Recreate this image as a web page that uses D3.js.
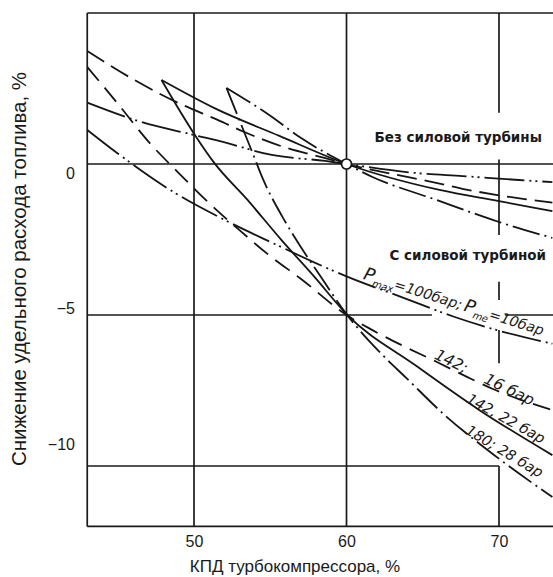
<!DOCTYPE html>
<html>
<head>
<meta charset="utf-8">
<script src="https://cdn.jsdelivr.net/npm/d3@7"></script>
<style>
  body { margin: 0; background: #fff; }
  svg { display: block; }
  .grid line { stroke: #1a1a1a; stroke-width: 1.7px; }
  .curve { stroke: #151515; stroke-width: 1.8px; fill: none; }
  .axis text { font-family: "Liberation Sans", Arial, sans-serif; font-size: 16px; fill: #1a1a1a; }
  .title { font-family: "Liberation Sans", Arial, sans-serif; fill: #1a1a1a; }
  .mode { font-family: "DejaVu Sans", sans-serif; font-weight: bold; font-size: 13.5px; fill: #1a1a1a; }
  .hand { font-family: "DejaVu Sans", sans-serif; font-style: italic; font-size: 14.5px; fill: #1a1a1a; }
</style>
</head>
<body>
<div id="chart"></div>
<script>
var xTicks = [50, 60, 70];
var yTicks = [0, -5, -10];

// без силовой турбины - every curve passes (60, 0)
var noPt100 = [[43, 2.03], [46.3, 1.43], [50, 0.96], [51.9, 0.73], [55.1, 0.3], [58.6, 0.1], [60, 0],
               [64.6, -0.3], [67.6, -0.4], [71.3, -0.53], [73.5, -0.6]];
var noPt142a = [[43, 3.74], [46.1, 2.78], [48.85, 2.05], [51.55, 1.46], [53.3, 1.06], [55.9, 0.56], [58.55, 0.2], [60, 0],
                [64.3, -0.46], [66.1, -0.65], [67.6, -0.82], [69.8, -1.02], [71.8, -1.17], [73.5, -1.28]];
var noPt142b = [[47.87, 2.78], [51.34, 1.85], [55.6, 0.93], [60, 0], [66.1, -0.86], [70, -1.23], [73.5, -1.56]];
var noPt180 = [[52.13, 2.52], [55, 1.6], [57.05, 0.85], [60, 0], [61.7, -0.43], [65.9, -1.19], [70, -1.92], [73.5, -2.45]];

// с силовой турбиной
var pt100 = [[43, 1.13], [45, 0.35], [48.5, -0.88], [52, -1.85], [55.3, -2.65], [58.6, -3.42], [60, -3.72],
             [64, -4.48], [67, -5.05], [70, -5.52], [73.5, -5.95]];
var pt142a = [[43, 3.21], [45, 2], [47, 0.75], [49, -0.3], [51, -1.3], [53, -2.2], [55, -3.05], [57, -3.8], [60, -5],
              [61.7, -5.5], [63.7, -6.02], [65.9, -6.55], [67.9, -7.05], [69.6, -7.45], [73.5, -8.15]];
var pt142b = [[47.87, 2.78], [49.97, 1.03], [51.34, 0.03], [53.51, -1.19], [55.74, -2.52], [57.9, -3.74], [60, -4.97],
              [64.59, -6.69], [68.72, -8.15], [73.5, -9.64]];
var pt180 = [[52.13, 2.52], [53.97, 0.2], [54.49, -0.46], [55.8, -1.75], [56.59, -2.42], [58.36, -3.77], [60, -4.97],
             [62.49, -6.39], [63.93, -7.09], [66.43, -8.31], [69.25, -9.47], [73.5, -11.03]];

var modeLabels = ["Без силовой турбины", "С силовой турбиной"];
var xTitle = "КПД турбокомпрессора, %";
var yTitle = "Снижение удельного расхода топлива, %";

var width = 553;
var height = 577;

var dashLong = "20,8";
var dashDot = "28,5,2,5";
var dashDot2 = "40,5,2,4,2,5";

var x = d3.scaleLinear().domain([50, 70]).range([194, 499]);
var y = d3.scaleLinear().domain([0, -5]).range([164, 315]);
// the tick numbers sit on their own spacing in the original
var yLab = d3.scaleLinear().domain([0, -10]).range([173, 444]);

var svg = d3.select("#chart").append("svg")
  .attr("width", width)
  .attr("height", height);

// frame and grid
var grid = svg.append("g").attr("class", "grid");
function seg(x1, y1, x2, y2) {
  grid.append("line")
    .attr("x1", x(x1)).attr("y1", y(y1))
    .attr("x2", x(x2)).attr("y2", y(y2));
}
var xMin = 43, xMax = 75, yTop = 5, yBot = -12;
seg(xMin, yTop, xMax, yTop);
seg(xMin, yBot, xMax, yBot);
seg(xMin, yTop, xMin, yBot);
seg(50, yTop, 50, yBot);
seg(60, yTop, 60, yBot);
[[5, 1.7], [0.15, -2.35], [-3.9, -4.5], [-5.5, -6.6], [-10, yBot]].forEach(function(s) {
  seg(70, s[0], 70, s[1]);
});
seg(xMin, 0, xMax, 0);
seg(xMin, -5, 65.6, -5);
seg(70.4, -5, xMax, -5);
seg(xMin, -10, 70, -10);

// curves
var line = d3.line()
  .x(d => x(d[0]))
  .y(d => y(d[1]))
  .curve(d3.curveMonotoneX);

var curves = [
  {pts: noPt100, dash: dashDot2},
  {pts: noPt142a, dash: dashLong},
  {pts: noPt142b, dash: null},
  {pts: noPt180, dash: dashDot},
  {pts: pt100, dash: dashDot2},
  {pts: pt142a, dash: "18,9"},
  {pts: pt142b, dash: null},
  {pts: pt180, dash: dashDot}
];

svg.append("g").selectAll("path")
  .data(curves).enter()
  .append("path")
  .attr("class", "curve")
  .attr("d", d => line(d.pts))
  .attr("stroke-dasharray", d => d.dash);

svg.append("circle")
  .attr("cx", x(60)).attr("cy", y(0))
  .attr("r", 5)
  .attr("fill", "#fff")
  .attr("stroke", "#151515")
  .attr("stroke-width", 1.7);

// axes (numbers only)
var xAxis = d3.axisBottom(x).tickValues(xTicks).tickSize(0).tickPadding(0);
var gx = svg.append("g").attr("class", "axis")
  .attr("transform", "translate(0,535.6)")
  .call(xAxis);
gx.select(".domain").remove();

var yAxis = d3.axisLeft(yLab).tickValues(yTicks).tickSize(0).tickPadding(0);
var gy = svg.append("g").attr("class", "axis")
  .attr("transform", "translate(75,0)")
  .call(yAxis);
gy.select(".domain").remove();
svg.selectAll(".axis text").attr("font-family", null).attr("font-size", null);

svg.append("text")
  .attr("class", "title")
  .attr("x", 295).attr("y", 572)
  .attr("text-anchor", "middle")
  .style("font-size", "17px")
  .text(xTitle);

svg.append("text")
  .attr("class", "title")
  .attr("transform", "translate(25.5,269) rotate(-90)")
  .attr("text-anchor", "middle")
  .style("font-size", "20.5px")
  .text(yTitle);

// mode labels
svg.append("text").attr("class", "mode")
  .attr("x", x(61.84)).attr("y", y(0.73))
  .text(modeLabels[0]);
svg.append("text").attr("class", "mode")
  .attr("x", x(62.82)).attr("y", y(-3.18))
  .text(modeLabels[1]);

// handwritten labels along the curves
function hand(px, py, angle, size, parts) {
  var t = svg.append("text").attr("class", "hand")
    .attr("transform", `translate(${x(px)},${y(py)}) rotate(${angle})`)
    .style("font-size", size + "px");
  parts.forEach(function(p) {
    t.append("tspan")
      .attr("dy", p.sub ? 4.5 : (p.up ? -4.5 : 0))
      .style("font-size", p.sub ? (size * 0.7) + "px" : (p.big ? (size * 1.25) + "px" : null))
      .text(p.s);
  });
}
hand(61.05, -3.8, 17.5, 14.2, [
  {s: "P", big: true}, {s: "max", sub: true}, {s: "=100бар;\u2009", up: true},
  {s: "P", big: true}, {s: "me", sub: true}, {s: "=10бар", up: true}
]);
hand(65.7, -6.43, 26, 15.5, [{s: "142;\u2003 16 бар"}]);
hand(67.8, -7.87, 29, 14.5, [{s: "142, 22 бар"}]);
hand(67.74, -8.91, 31, 14.5, [{s: "180; 28 бар"}]);
</script>
</body>
</html>
